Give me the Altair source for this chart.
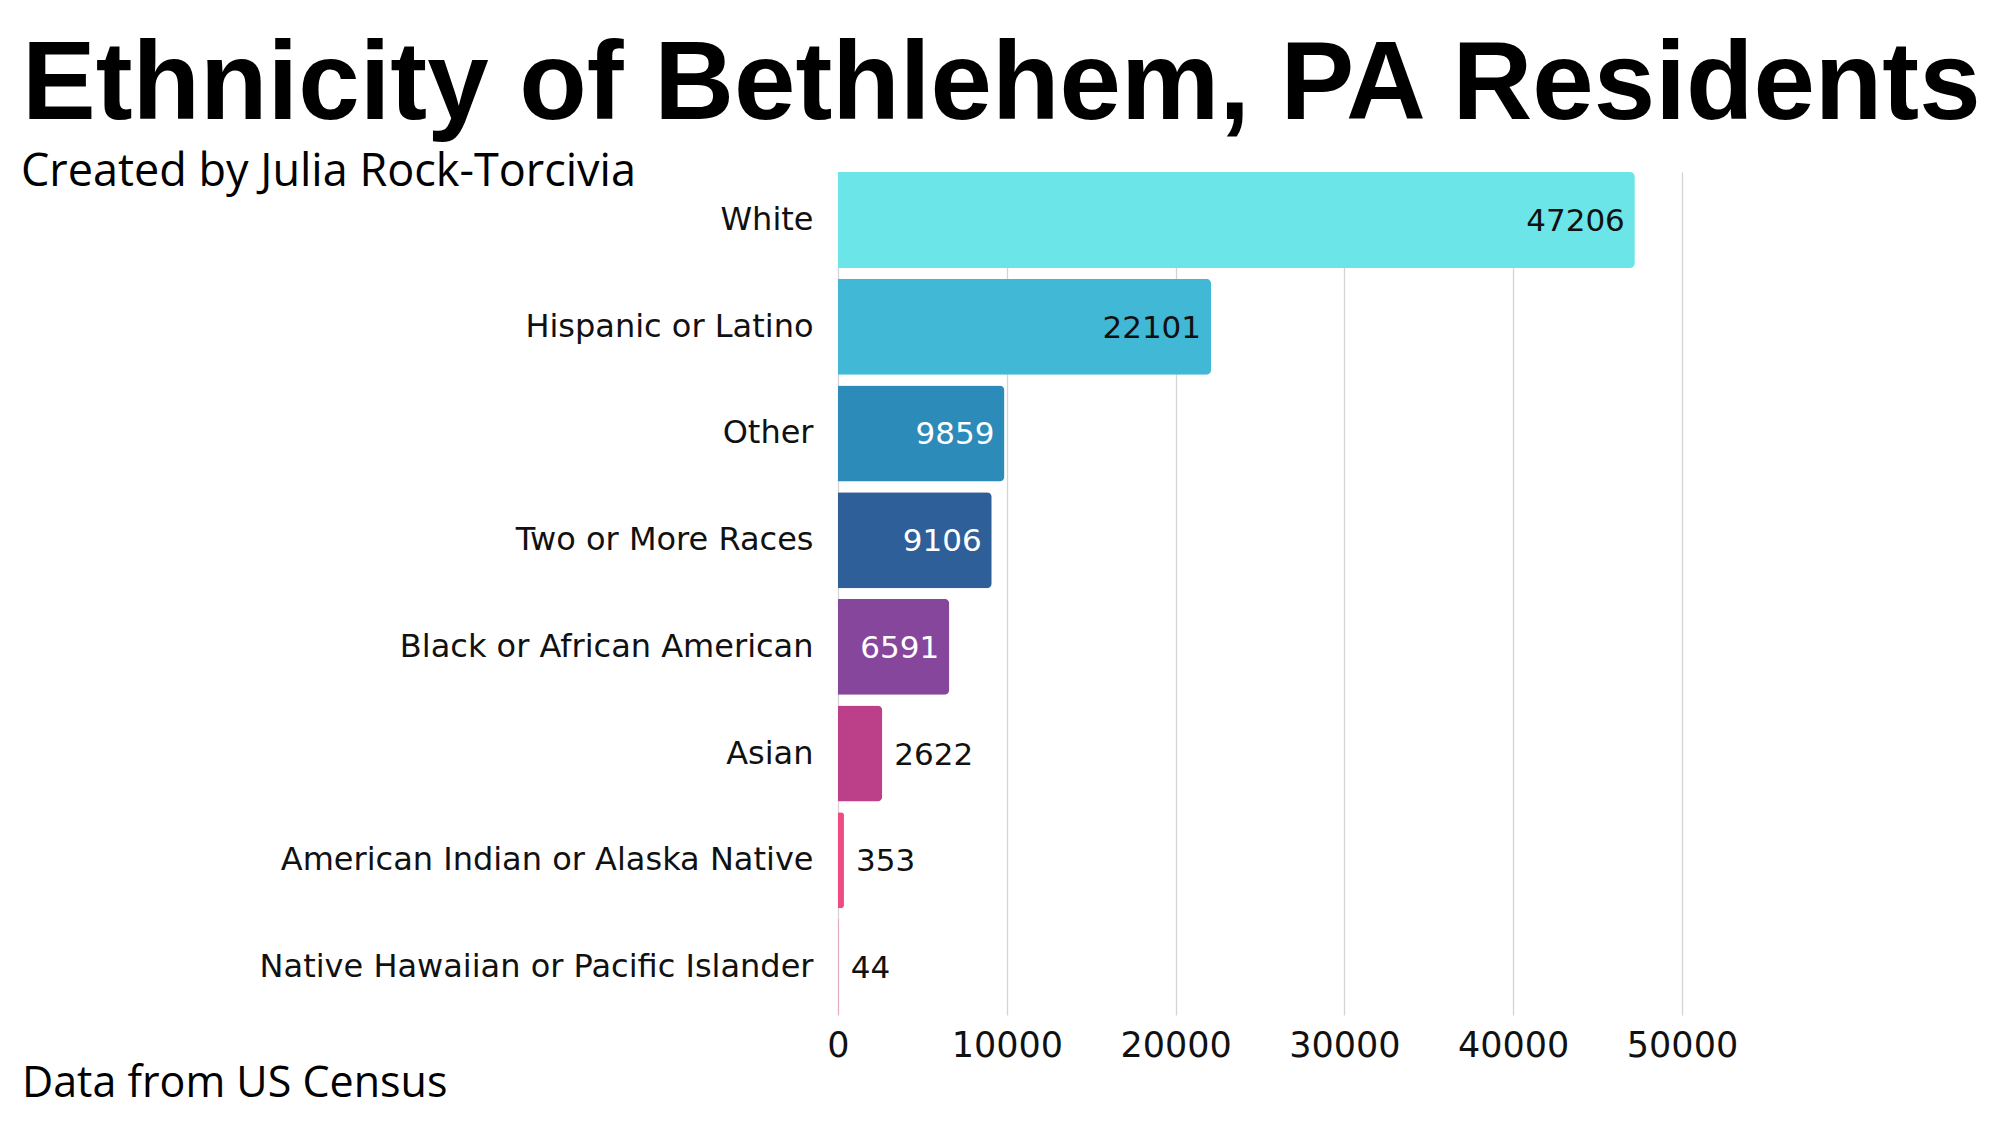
import altair as alt
import pandas as pd

categories = ["White", "Hispanic or Latino", "Other", "Two or More Races",
              "Black or African American", "Asian",
              "American Indian or Alaska Native",
              "Native Hawaiian or Pacific Islander"]
values = [47206, 22101, 9859, 9106, 6591, 2622, 353, 44]
tick_values = [0, 10000, 20000, 30000, 40000, 50000]

bar_colors = ["#6ce5e8", "#41b8d5", "#2d8bba", "#2f5f98",
              "#86469c", "#bc3f8a", "#ee4b84", "#f08aa0"]
label_colors = ["#111111", "#111111", "#ffffff", "#ffffff", "#ffffff",
                "#111111", "#111111", "#111111"]

title_text = "Ethnicity of Bethlehem, PA Residents"
subtitle_text = "Created by Julia Rock-Torcivia"
footer_text = "Data from US Census"

df = pd.DataFrame({
    "category": categories,
    "value": values,
    "label": [str(v) for v in values],
    "lc": label_colors,
})

W, H = 844, 843
LEFT, TOP = 838, 172

y_enc = alt.Y("category:N", sort=categories,
              scale=alt.Scale(paddingInner=0.1, paddingOuter=0),
              axis=alt.Axis(title=None, ticks=False, domain=False,
                            labelFont="DejaVu Sans", labelFontSize=32,
                            labelColor="#111111", labelPadding=25,
                            labelLimit=1000))
x_scale = alt.Scale(domain=[0, 50000])

base = alt.Chart(df)

bars = base.mark_bar(cornerRadiusEnd=5).encode(
    y=y_enc,
    x=alt.X("value:Q", scale=x_scale,
            axis=alt.Axis(title=None, values=tick_values, format="d",
                          grid=True, gridColor="#d4d4d4", gridWidth=1.3,
                          domain=False, ticks=False, labelFlush=False,
                          labelFont="DejaVu Sans", labelFontSize=35,
                          labelColor="#111111", labelPadding=13)),
    color=alt.Color("category:N",
                    scale=alt.Scale(domain=categories, range=bar_colors),
                    legend=None),
)

inside = base.transform_filter("datum.value > 5000").mark_text(
    align="right", dx=-10, dy=2, font="DejaVu Sans", fontSize=31
).encode(
    y=alt.Y("category:N", sort=categories),
    x=alt.X("value:Q", scale=x_scale),
    text="label:N",
    color=alt.Color("lc:N", scale=None),
)

outside = base.transform_filter("datum.value <= 5000").mark_text(
    align="left", dx=12, dy=2, font="DejaVu Sans", fontSize=31
).encode(
    y=alt.Y("category:N", sort=categories),
    x=alt.X("value:Q", scale=x_scale),
    text="label:N",
    color=alt.Color("lc:N", scale=None),
)

def free_text(txt, x, y, size, weight="normal", font="DejaVu Sans"):
    return alt.Chart(pd.DataFrame({"t": [txt]})).mark_text(
        align="left", baseline="alphabetic", fontSize=size,
        fontWeight=weight, font=font, color="#000000", clip=False
    ).encode(text="t:N", x=alt.value(x), y=alt.value(y))

title = free_text(title_text, 22 - LEFT, 119 - TOP, 110.5, "bold", "Liberation Sans")
subtitle = free_text(subtitle_text, 21 - LEFT, 186 - TOP, 45, "normal", "Open Sans")
footer = free_text(footer_text, 22 - LEFT, 1097 - TOP, 43, "normal", "Open Sans")

chart = alt.layer(bars, inside, outside, title, subtitle, footer).properties(
    width=W, height=H,
    autosize=alt.AutoSizeParams(type="none"),
    padding={"left": LEFT, "top": TOP, "right": 2000 - LEFT - W,
             "bottom": 1125 - TOP - H},
    background="white",
).configure_view(stroke=None)

chart.save("out.html", embed_options={"renderer": "svg", "actions": False})
